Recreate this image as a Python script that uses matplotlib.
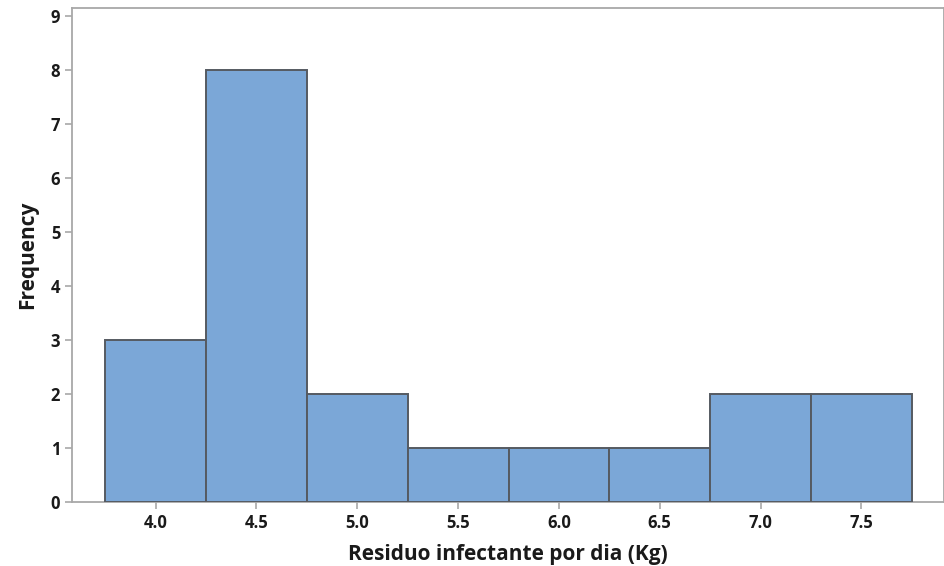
import matplotlib
matplotlib.use("Agg")
import matplotlib.pyplot as plt

bin_centers = [4.0, 4.5, 5.0, 5.5, 6.0, 6.5, 7.0, 7.5]
frequencies = [3, 8, 2, 1, 1, 1, 2, 2]
x_ticks = [4.0, 4.5, 5.0, 5.5, 6.0, 6.5, 7.0, 7.5]
x_tick_labels = ["4.0", "4.5", "5.0", "5.5", "6.0", "6.5", "7.0", "7.5"]
y_ticks = [0, 1, 2, 3, 4, 5, 6, 7, 8, 9]
x_label = "Residuo infectante por dia (Kg)"
y_label = "Frequency"

plt.rcParams['font.family'] = ['Open Sans', 'DejaVu Sans']

fig = plt.figure(figsize=(9.45, 5.66), dpi=100)
ax = fig.add_axes([72/945, 1-502/566, (944-72)/945, (502-8)/566])

ax.bar(bin_centers, frequencies, width=0.5, color="#7BA7D7",
       edgecolor="#555a61", linewidth=1.4, zorder=3)

ax.set_xlim(3.585, 7.91)
ax.set_ylim(0, 9.15)
ax.set_xticks(x_ticks)
ax.set_xticklabels(x_tick_labels)
ax.set_yticks(y_ticks)

for s in ax.spines.values():
    s.set_color("#a8a8a8")
    s.set_linewidth(1.3)

ax.tick_params(axis='both', colors="#a8a8a8", length=5, width=1.2,
               labelcolor="#1a1a1a", labelsize=12)
for lab in ax.get_xticklabels() + ax.get_yticklabels():
    lab.set_fontweight('bold')

ax.set_xlabel(x_label, fontsize=15, fontweight='bold', color="#1a1a1a", labelpad=9)
ax.set_ylabel(y_label, fontsize=15, fontweight='bold', color="#1a1a1a", labelpad=9)

fig.savefig("out.png", dpi=100)
